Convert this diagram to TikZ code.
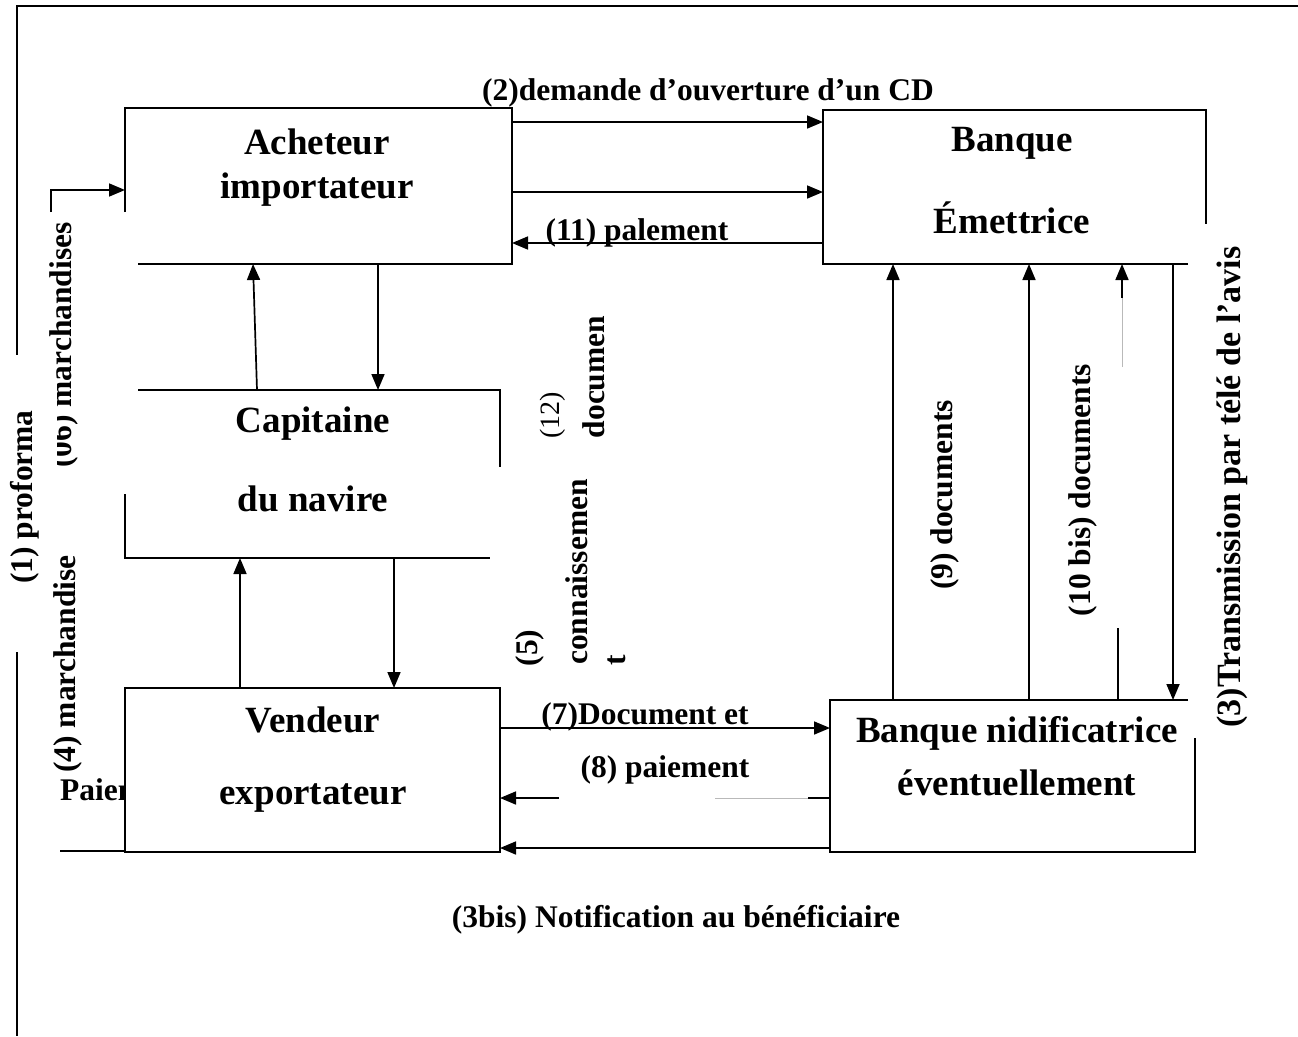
\documentclass[tikz,border=0pt]{standalone}
\usepackage{fontspec}
\setmainfont{Liberation Serif}
\usetikzlibrary{arrows.meta,calc}
\begin{document}
\begin{tikzpicture}[x=1pt,y=-1pt,
  ln/.style={line width=1.7pt},
  frm/.style={line width=2.8pt},
  faint/.style={line width=0.6pt,gray!55},
  arr/.style={line width=1.7pt,-{Triangle[length=16pt,width=13pt]}},
  bx/.style={inner sep=0pt,outer sep=0pt},
  btxt/.style={font=\fontsize{37}{40}\selectfont\bfseries,inner sep=0pt},
  lbl/.style={font=\fontsize{31.5}{36}\selectfont\bfseries,inner sep=0pt},
  vlbl/.style={lbl,rotate=90},
]
\useasboundingbox (0,0) rectangle (1298,1036);
% outer frame
\coordinate (fTR) at (1298,6);
\coordinate (fTL) at (17,6);
\coordinate (fG1) at (17,355);
\coordinate (fG2) at (17,652);
\coordinate (fB) at (17,1036);
\draw[frm] (fTR) -- (fTL) -- (fG1);
\draw[frm] (fG2) -- (fB);

% boxes (named rectangles)
\node[bx,minimum width=387pt,minimum height=156pt] (ach) at (318.5,186) {};
\node[bx,minimum width=383pt,minimum height=154pt] (ban) at (1014.5,187) {};
\node[bx,minimum width=375pt,minimum height=168pt] (cap) at (312.5,474) {};
\node[bx,minimum width=365pt,minimum height=152pt] (nid) at (1012.5,776) {};

% left side labels
\node[vlbl] (l6) at (64,345) {(06) marchandises};
\fill[white] (0,378) rectangle (57,540);
\node[vlbl] (l1) at (25,497) {(1) proforma};
\node[vlbl] (l4) at (68,664) {(4) marchandise};
\node[lbl,anchor=west] (lpai) at (60,790) {Paiement};

% Vendeur box (white, covers the end of the text)
\node[bx,fill=white,minimum width=375pt,minimum height=164pt] (ven) at (312.5,770) {};
\draw[ln] (ven.north west) rectangle (ven.south east);

% borders with gaps
\draw[ln] ([yshift=-104pt]ach.north west) -- (ach.north west) -- (ach.north east) -- (ach.south east) -- ([xshift=13pt]ach.south west);
\draw[ln] ([xshift=-18pt]ban.south east) -- (ban.south west) -- (ban.north west) -- (ban.north east) -- ([yshift=40pt]ban.south east);
\draw[ln] ([xshift=13pt]cap.north west) -- (cap.north east) -- ([yshift=-77pt]cap.north east);
\draw[ln] ([yshift=64pt]cap.south west) -- (cap.south west) -- ([xshift=-10pt]cap.south east);
\draw[ln] ([xshift=-7pt]nid.north east) -- (nid.north west) -- (nid.south west) -- (nid.south east) -- ([yshift=-38pt]nid.north east);

% box texts
\node[btxt] (t1a) at (317,142) {Acheteur};
\node[btxt] (t1b) at (317,190) {importateur};
\node[btxt] (t2a) at (1012,143) {Banque};
\node[btxt] (t2b) at (1012,218) {Émettrice};
\node[btxt] (t3a) at (313,424) {Capitaine};
\node[btxt] (t3b) at (313,499) {du navire};
\node[btxt] (t4a) at (313,720) {Vendeur};
\node[btxt] (t4b) at (313,798) {exportateur};
\node[btxt] (t5a) at (1017,733) {Banque nidificatrice};
\node[btxt] (t5b) at (1017,783) {éventuellement};

% left arrow into Acheteur, bottom-left line
\coordinate (pf) at (51,212);
\draw[arr] (pf) |- ([yshift=-4pt]ach.west);
\coordinate (bl) at (60,851);
\draw[ln] (bl) -- (bl -| ven.west);

% Acheteur <-> Banque emettrice
\draw[arr] ([yshift=-14pt]ach.north east) -- ([yshift=-14pt]ach.north east -| ban.west);
\draw[arr] ([yshift=-84pt]ach.north east) -- ([yshift=-84pt]ach.north east -| ban.west);
\draw[arr] ([yshift=21pt]ban.south west) -- ([yshift=21pt]ban.south west -| ach.east);

% Acheteur <-> Capitaine <-> Vendeur
\draw[arr] ([xshift=253pt]ach.south west) -- ([xshift=253pt]ach.south west |- cap.north);
\draw[arr] ([xshift=132pt]cap.north west) -- ([xshift=128pt]ach.south west);
\draw[arr] ([xshift=115pt]ven.north west) -- ([xshift=115pt]ven.north west |- cap.south);
\draw[arr] ([xshift=269pt]cap.south west) -- ([xshift=269pt]cap.south west |- ven.north);

% Vendeur <-> Banque nidificatrice
\draw[arr] ([yshift=-40pt]ven.north east) -- ([yshift=-40pt]ven.north east -| nid.west);
\coordinate (p8) at ([yshift=-22pt]nid.west);
\draw[ln] (p8) -- ([xshift=-22pt]p8);
\draw[faint] ([xshift=-22pt]p8) -- ([xshift=-115pt]p8);
\draw[arr] ([xshift=-271pt]p8) -- (p8 -| ven.east);
\draw[arr] ([yshift=4pt]nid.south west) -- ([yshift=4pt]nid.south west -| ven.east);

% Banque nidificatrice <-> Banque emettrice
\draw[arr] ([xshift=63pt]nid.north west) -- ([xshift=63pt]nid.north west |- ban.south);
\draw[arr] ([xshift=199pt]nid.north west) -- ([xshift=199pt]nid.north west |- ban.south);
\draw[ln] ([xshift=288pt]nid.north west) -- ([xshift=288pt,yshift=72pt]nid.north west);
\coordinate (t3) at ([xshift=299pt]ban.south west);
\draw[faint] ([yshift=-103pt]t3) -- ([yshift=-34pt]t3);
\draw[arr] ([yshift=-34pt]t3) -- (t3);
\draw[arr] ([xshift=350pt]ban.south west) -- ([xshift=350pt]ban.south west |- nid.north);

% labels
\node[lbl] (l2) at (708,93) {(2)demande d’ouverture d’un CD};
\node[lbl] (l11) at (637,233) {(11) palement};
\node[lbl] (l7) at (645,717) {(7)Document et};
\node[lbl] (l8) at (665,770) {(8) paiement};
\node[lbl] (l3b) at (676,920) {(3bis) Notification au bénéficiaire};
\node[vlbl] (l9) at (945,495) {(9) documents};
\node[vlbl] (l10) at (1083,490) {(10 bis) documents};
\node[vlbl,font=\fontsize{34}{38}\selectfont\bfseries] (l3) at (1232,487) {(3)Transmission par télé de l’avis};
\node[font=\fontsize{28}{30}\selectfont,inner sep=0pt,rotate=90] (l12a) at (553,415) {(12)};
\node[vlbl] (l12b) at (594,377) {documen};
\node[vlbl] (l5a) at (530,648) {(5)};
\node[vlbl] (l5b) at (577,572) {connaissemen};
\node[vlbl] (l5c) at (617,660) {t};
\end{tikzpicture}
\end{document}
